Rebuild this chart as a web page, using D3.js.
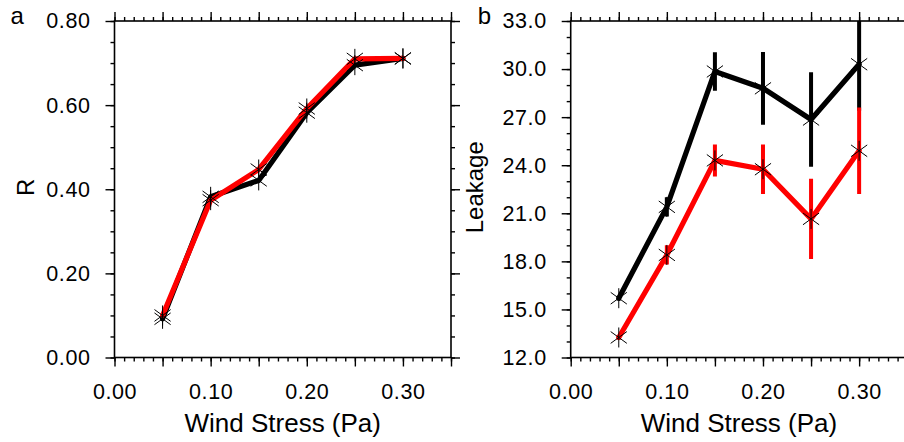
<!DOCTYPE html>
<html>
<head>
<meta charset="utf-8">
<script src="https://cdn.jsdelivr.net/npm/d3@7"></script>
<style>
  html, body { margin: 0; padding: 0; background: #fff; overflow: hidden; }
  svg { display: block; font-family: "Liberation Sans", Arial, Helvetica, sans-serif; }
</style>
</head>
<body>
<svg id="chart" width="904" height="442"></svg>
<script>
// Wind stress experiments (Pa)
const windStress = [0.05, 0.10, 0.15, 0.20, 0.25, 0.30];

// Panel a: correlation R
const rBlack = [0.092, 0.382, 0.421, 0.582, 0.695, 0.711];
const rRed   = [0.100, 0.374, 0.447, 0.592, 0.710, 0.711];

// Panel b: leakage with spread
const leakBlack    = [15.7, 21.4, 29.85, 28.8, 26.85, 30.3];
const leakBlackErr = [0.15, 0.6, 1.2, 2.27, 2.95, 2.9];
const leakRed      = [13.25, 18.4, 24.3, 23.75, 20.65, 24.9];
const leakRedErr   = [0.15, 0.6, 1.0, 1.55, 2.5, 2.7];

// Tick values
const xLabelTicks = [0.00, 0.10, 0.20, 0.30];
const xMajorTicks = [0.00, 0.05, 0.10, 0.15, 0.20, 0.25, 0.30, 0.35];
const xMinorTicks = d3.range(0, 36).map(i => i / 100);
const rTicks      = [0.00, 0.20, 0.40, 0.60, 0.80];
const rMinorTicks = d3.range(0, 17).map(i => i * 0.05);
const leakTicks   = [12, 15, 18, 21, 24, 27, 30, 33];
const leakMinor   = d3.range(12, 34);

const svg = d3.select("#chart");
const W = 336.5, H = 336.5;
const tickFont = 21.5, titleFont = 26;

function panel(opts) {
  const g = svg.append("g").attr("transform", `translate(${opts.left},${opts.top})`);
  const x = d3.scaleLinear().domain([0, 0.35]).range([0, W]);
  const y = d3.scaleLinear().domain(opts.yDomain).range([H, 0]);

  const clipId = "clip-" + opts.id;
  g.append("clipPath").attr("id", clipId)
    .append("rect").attr("x", 0).attr("y", 0).attr("width", W).attr("height", H);

  const styleAxis = sel => {
    sel.select(".domain").remove();
    sel.selectAll("line").attr("stroke", "#000").attr("stroke-width", 1.4);
    sel.selectAll("text").attr("fill", "#000").attr("font-size", tickFont)
      .attr("font-family", "Liberation Sans, Arial, sans-serif")
      .style("letter-spacing", "0.6px");
  };

  // minor ticks all round
  g.append("g").attr("transform", `translate(0,${H})`)
    .call(d3.axisBottom(x).tickValues(xMinorTicks).tickSize(4).tickFormat("")).call(styleAxis);
  g.append("g")
    .call(d3.axisTop(x).tickValues(xMinorTicks).tickSize(4).tickFormat("")).call(styleAxis);
  g.append("g")
    .call(d3.axisLeft(y).tickValues(opts.yMinor).tickSize(4).tickFormat("")).call(styleAxis);
  g.append("g").attr("transform", `translate(${W},0)`)
    .call(d3.axisRight(y).tickValues(opts.yMinor).tickSize(4).tickFormat("")).call(styleAxis);

  // major ticks
  g.append("g").attr("transform", `translate(0,${H})`)
    .call(d3.axisBottom(x).tickValues(xMajorTicks).tickSize(9).tickPadding(17.5)
      .tickFormat(d => xLabelTicks.some(v => Math.abs(v - d) < 1e-9) ? d3.format(".2f")(d) : ""))
    .call(styleAxis);
  g.append("g")
    .call(d3.axisTop(x).tickValues(xMajorTicks).tickSize(9).tickFormat("")).call(styleAxis);
  g.append("g")
    .call(d3.axisLeft(y).tickValues(opts.yTicks).tickSize(9).tickPadding(15)
      .tickFormat(opts.yFormat)).call(styleAxis);
  g.append("g").attr("transform", `translate(${W},0)`)
    .call(d3.axisRight(y).tickValues(opts.yTicks).tickSize(9).tickFormat("")).call(styleAxis);

  // frame
  g.append("rect").attr("width", W).attr("height", H)
    .attr("fill", "none").attr("stroke", "#000").attr("stroke-width", 1.6);

  const plot = g.append("g").attr("clip-path", `url(#${clipId})`);

  const line = d3.line().x((d, i) => x(windStress[i])).y(d => y(d));

  opts.series.forEach(s => {
    plot.append("path").datum(s.values)
      .attr("d", line)
      .attr("fill", "none").attr("stroke", s.color).attr("stroke-width", 5.2)
      .attr("stroke-linejoin", "round").attr("stroke-linecap", "round");
    if (s.err) {
      plot.selectAll(null).data(s.values).join("line")
        .attr("x1", (d, i) => x(windStress[i])).attr("x2", (d, i) => x(windStress[i]))
        .attr("y1", (d, i) => y(d - s.err[i])).attr("y2", (d, i) => y(d + s.err[i]))
        .attr("stroke", s.color).attr("stroke-width", 4);
    }
  });

  // asterisk markers
  const r = 10, a = 36 * Math.PI / 180;
  const star = `M${-r * Math.cos(a)},${-r * Math.sin(a)}L${r * Math.cos(a)},${r * Math.sin(a)}` +
               `M${-r * Math.cos(a)},${r * Math.sin(a)}L${r * Math.cos(a)},${-r * Math.sin(a)}` +
               `M0,${-r}L0,${r}`;
  opts.series.forEach(s => {
    plot.selectAll(null).data(s.values).join("path")
      .attr("transform", (d, i) => `translate(${x(windStress[i])},${y(d)})`)
      .attr("d", star).attr("fill", "none").attr("stroke", "#000").attr("stroke-width", 1);
  });

  // axis titles
  g.append("text").attr("x", W / 2).attr("y", 74.5).attr("text-anchor", "middle")
    .attr("transform", `translate(0,${H})`)
    .attr("font-size", titleFont).attr("fill", "#000").text("Wind Stress (Pa)");
  g.append("text")
    .attr("transform", `translate(${opts.yTitleX},${H / 2 - 2}) rotate(-90)`)
    .attr("text-anchor", "middle").attr("font-size", 24).attr("fill", "#000")
    .text(opts.yTitle);

  // panel letter
  g.append("text").attr("x", opts.letterX).attr("y", 3).attr("font-size", 24)
    .attr("fill", "#000").text(opts.letter);
}

panel({
  id: "a", left: 114.5, top: 21, yDomain: [0, 0.8],
  yTicks: rTicks, yMinor: rMinorTicks, yFormat: d3.format(".2f"),
  yTitle: "R", yTitleX: -81, letter: "a", letterX: -104,
  series: [
    { values: rBlack, color: "#000" },
    { values: rRed, color: "#ff0000" }
  ]
});

panel({
  id: "b", left: 570.7, top: 21, yDomain: [12, 33],
  yTicks: leakTicks, yMinor: leakMinor, yFormat: d3.format(".1f"),
  yTitle: "Leakage", yTitleX: -88, letter: "b", letterX: -93,
  series: [
    { values: leakBlack, err: leakBlackErr, color: "#000" },
    { values: leakRed, err: leakRedErr, color: "#ff0000" }
  ]
});
</script>
</body>
</html>
